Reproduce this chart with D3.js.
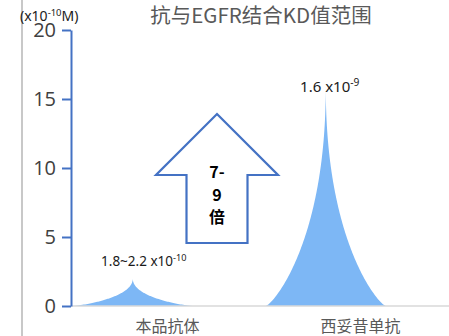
<!DOCTYPE html>
<html>
<head>
<meta charset="utf-8">
<script src="https://cdn.jsdelivr.net/npm/d3@7"></script>
<style>
  html, body { margin: 0; padding: 0; background: #fff; }
  svg { display: block; }
  text { font-family: "Noto Sans", "Open Sans", "Noto Sans CJK SC", sans-serif; }
</style>
</head>
<body>
<svg id="chart" width="449" height="336"></svg>
<script>
// KD values, unit ×10^-10 M
const categories = ["本品抗体", "西妥昔单抗"];
const kdValues = [2.0, 16];
const valueLabelMain = ["1.8~2.2 x10", "1.6 x10"];
const valueLabelExp = ["-10", "-9"];
const yTicks = [0, 5, 10, 15, 20];
const foldText = ["7-", "9", "倍"];
const titleText = "抗与EGFR结合KD值范围";
const unitParts = ["(x10", "-10", "M)"];

const W = 449, H = 336;
const svg = d3.select("#chart");
const cjk = '"Noto Sans CJK SC", "Noto Sans", sans-serif';

const y = d3.scaleLinear().domain([0, 20]).range([306, 30]);
const x = d3.scaleBand().domain(categories).range([71, 457]).padding(0);
const bw = x.bandwidth();
const spikeCenter = c => x(c) + bw * 0.5 - bw * 0.18;
const halfBase = bw * 0.31;

// frame line on the left
svg.append("line")
  .attr("x1", 22).attr("x2", 22).attr("y1", 0).attr("y2", H)
  .attr("stroke", "#c8c8c8").attr("stroke-width", 2);

// spike outline: flared foot, concave sides, needle tip
const spikePath = (c, v) => {
  const cx = spikeCenter(c), base = y(0), top = y(v);
  const h = base - top;
  const n = 120;
  const left = [], right = [];
  for (let i = 0; i <= n; i++) {
    const t = i / n;
    const s = Math.pow(t, 0.8);
    const hw = halfBase * Math.pow(1 - s, 2.1);
    left.push([cx - hw, base - t * h]);
    right.push([cx + hw, base - t * h]);
  }
  return d3.line()(left.concat(right.reverse())) + "Z";
};

svg.append("g").selectAll("path")
  .data(categories)
  .join("path")
  .attr("d", (c, i) => spikePath(c, kdValues[i]))
  .attr("fill", "#7db7f5");

// category baseline
svg.append("line")
  .attr("x1", 71).attr("x2", W).attr("y1", y(0)).attr("y2", y(0))
  .attr("stroke", "#d9d9d9").attr("stroke-width", 1.5);

// value axis
const yAxis = svg.append("g")
  .attr("transform", "translate(71,0)")
  .call(d3.axisLeft(y).tickValues(yTicks).tickSize(9).tickSizeOuter(0).tickPadding(6));
yAxis.select(".domain").attr("stroke", "#4472c4").attr("stroke-width", 2);
yAxis.selectAll(".tick line").attr("stroke", "#4472c4").attr("stroke-width", 2);
yAxis.selectAll(".tick text")
  .attr("fill", "#404040")
  .style("font-size", "20px")
  .style("font-family", '"Open Sans", "Noto Sans", sans-serif');

// category labels
svg.append("g").selectAll("text")
  .data(categories)
  .join("text")
  .attr("x", c => x(c) + bw / 2)
  .attr("y", 332)
  .attr("text-anchor", "middle")
  .attr("fill", "#595959")
  .style("font-size", "16px")
  .style("font-family", cjk)
  .text(c => c);

// value labels with exponents
const labelOffsets = [{ dx: 11, dy: -12, size: 13.5 }, { dx: 4, dy: 7, size: 15 }];
categories.forEach((c, i) => {
  const o = labelOffsets[i];
  const t = svg.append("text")
    .attr("x", spikeCenter(c) + o.dx)
    .attr("y", y(kdValues[i]) + o.dy)
    .attr("text-anchor", "middle")
    .attr("fill", "#1a1a1a")
    .style("font-size", o.size + "px");
  t.append("tspan").text(valueLabelMain[i]);
  t.append("tspan").attr("dy", -o.size * 0.4).style("font-size", (o.size * 0.68) + "px").text(valueLabelExp[i]);
});

// fold-change arrow
const arrow = { tip: 114, wing: 175, bottom: 243, cx: 217, wingHalf: 61, shaftHalf: 30.5 };
const arrowPts = [
  [arrow.cx, arrow.tip],
  [arrow.cx + arrow.wingHalf, arrow.wing],
  [arrow.cx + arrow.shaftHalf, arrow.wing],
  [arrow.cx + arrow.shaftHalf, arrow.bottom],
  [arrow.cx - arrow.shaftHalf, arrow.bottom],
  [arrow.cx - arrow.shaftHalf, arrow.wing],
  [arrow.cx - arrow.wingHalf, arrow.wing]
];
svg.append("path")
  .attr("d", d3.line()(arrowPts) + "Z")
  .attr("fill", "#fff")
  .attr("stroke", "#4472c4")
  .attr("stroke-width", 2.2)
  .attr("stroke-linejoin", "miter");

svg.append("g").selectAll("text")
  .data(foldText)
  .join("text")
  .attr("x", arrow.cx)
  .attr("y", (d, i) => 178 + i * 22.5)
  .attr("text-anchor", "middle")
  .attr("fill", "#000")
  .style("font-size", "16px")
  .style("font-weight", "bold")
  .style("font-family", cjk)
  .text(d => d);

// unit label
const unit = svg.append("text")
  .attr("x", 20).attr("y", 21)
  .attr("fill", "#1a1a1a")
  .style("font-size", "14px");
unit.append("tspan").text(unitParts[0]);
unit.append("tspan").attr("dy", -5).style("font-size", "9.5px").text(unitParts[1]);
unit.append("tspan").attr("dy", 5).text(unitParts[2]);

// title
svg.append("text")
  .attr("x", 261).attr("y", 23)
  .attr("text-anchor", "middle")
  .attr("fill", "#595959")
  .style("font-size", "20.5px")
  .style("font-family", cjk)
  .text(titleText);
</script>
</body>
</html>
